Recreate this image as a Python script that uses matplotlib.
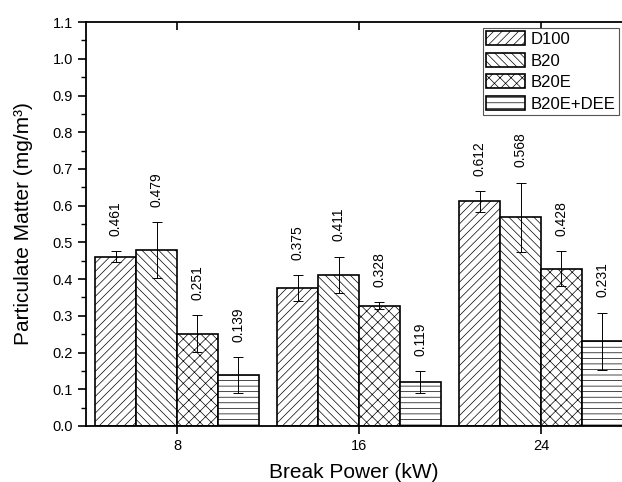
import matplotlib
matplotlib.use("Agg")
import numpy as np
from matplotlib import pyplot as plt
from matplotlib.ticker import MultipleLocator

plt.rcParams['font.family'] = ['Liberation Sans', 'DejaVu Sans']
plt.rcParams['hatch.linewidth'] = 0.5

# data
powers = ['8', '16', '24']
fuels = ['D100', 'B20', 'B20E', 'B20E+DEE']
pm_d100 = [0.461, 0.375, 0.612]
pm_b20 = [0.479, 0.411, 0.568]
pm_b20e = [0.251, 0.328, 0.428]
pm_b20e_dee = [0.139, 0.119, 0.231]
err_d100 = [0.015, 0.035, 0.028]
err_b20 = [0.076, 0.050, 0.095]
err_b20e = [0.050, 0.010, 0.048]
err_b20e_dee = [0.048, 0.030, 0.078]

values = [pm_d100, pm_b20, pm_b20e, pm_b20e_dee]
errors = [err_d100, err_b20, err_b20e, err_b20e_dee]
hatches = ['////', '\\\\\\\\', 'xxx', '---']

fig = plt.figure(figsize=(6.22, 4.82), dpi=100)
ax = fig.add_axes([0.1383, 0.1162, 0.8617, 0.838])

x = np.arange(len(powers))
w = 0.225
for i, fuel in enumerate(fuels):
    pos = x + (i - 1.5) * w
    ax.bar(pos, values[i], width=w, color='white', edgecolor='black',
           linewidth=1.2, hatch=hatches[i], label=fuel, zorder=2)
    ax.errorbar(pos, values[i], yerr=errors[i], fmt='none', ecolor='black',
                elinewidth=0.7, capsize=3.5, capthick=0.7, zorder=3)
    for px, v, e in zip(pos, values[i], errors[i]):
        ax.annotate(f"{v:.3f}", (px, v + e), xytext=(0, 11), textcoords='offset points',
                    rotation=90, ha='center', va='bottom', fontsize=10)

ax.set_xlim(-0.5, 2.445)
ax.set_ylim(0, 1.1)
ax.set_xticks(x)
ax.set_xticklabels(powers)
ax.yaxis.set_major_locator(MultipleLocator(0.1))
ax.yaxis.set_minor_locator(MultipleLocator(0.05))
ax.yaxis.set_major_formatter(matplotlib.ticker.FormatStrFormatter('%.1f'))

for s in ax.spines.values():
    s.set_linewidth(1.3)
ax.spines['right'].set_visible(False)

ax.tick_params(axis='y', which='major', length=6, width=1.2, labelsize=10.5, direction='out')
ax.tick_params(axis='y', which='minor', length=3.5, width=1.0, direction='out')
ax.tick_params(axis='x', which='major', length=6, width=1.2, labelsize=10.5, direction='out',
               top=True)
for t in ax.xaxis.get_major_ticks():
    t.tick2line.set_marker(matplotlib.lines.TICKDOWN)

ax.set_xlabel('Break Power (kW)', fontsize=15, labelpad=7)
ax.set_ylabel('Particulate Matter (mg/m³)', fontsize=15, labelpad=14)

leg = ax.legend(loc='upper left', bbox_to_anchor=(0.7407, 0.985), fontsize=12,
                handlelength=2.3, handleheight=0.9, handletextpad=0.35,
                labelspacing=0.35, borderpad=0.2, borderaxespad=0,
                fancybox=False, framealpha=1)
leg.get_frame().set_edgecolor('#555555')
leg.get_frame().set_linewidth(0.8)

fig.savefig('out.png', dpi=100)
